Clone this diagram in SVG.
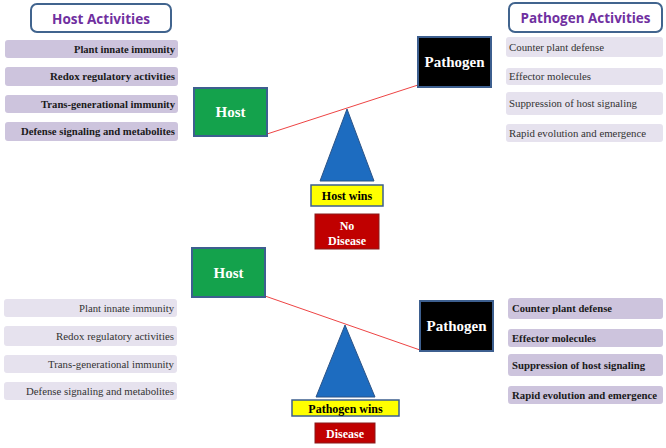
<svg xmlns="http://www.w3.org/2000/svg" width="666" height="448" viewBox="0 0 666 448">
<style>
.hdr{fill:#fff;stroke:#41648e;stroke-width:2}
.hdrt{font-family:"Open Sans","Liberation Sans",sans-serif;font-weight:bold;font-size:15px;fill:#7030a0;text-anchor:middle}
.dk{fill:#cdc4dd}
.lt{fill:#e6e2ee}
.bt{font-family:"Liberation Serif",serif;font-weight:bold;font-size:11px;fill:#1a1a1a}
.nt{font-family:"Liberation Serif",serif;font-size:11px;fill:#333}
.r{text-anchor:end}
.host{fill:#14a24c;stroke:#3d5f8f;stroke-width:2}
.path{fill:#000;stroke:#3d5f8f;stroke-width:2}
.nodet{font-family:"Liberation Serif",serif;font-weight:bold;font-size:15px;fill:#fff;text-anchor:middle}
.tri{fill:#1d6cc0;stroke:#2b5387;stroke-width:1}
.win{fill:#ffff00;stroke:#3d5f8f;stroke-width:1.5}
.wint{font-family:"Liberation Serif",serif;font-weight:bold;font-size:12px;fill:#000;text-anchor:middle}
.dis{fill:#c00000;stroke:#8a1a1a;stroke-width:1}
.dist{font-family:"Liberation Serif",serif;font-weight:bold;font-size:12px;fill:#fff;text-anchor:middle}
.beam{stroke:#ee4444;stroke-width:1;fill:none}
</style>

<!-- Headers -->
<g id="host-activities">
<rect class="hdr" x="31" y="4" width="140" height="28" rx="6"/>
<text class="hdrt" x="101" y="24" textLength="98" lengthAdjust="spacingAndGlyphs">Host Activities</text>
</g>
<g id="pathogen-activities">
<rect class="hdr" x="509" y="3" width="153" height="29" rx="6"/>
<text class="hdrt" x="585.5" y="23" textLength="130" lengthAdjust="spacingAndGlyphs">Pathogen Activities</text>
</g>

<!-- Top left host activity boxes (bold) -->
<g id="top-host-list">
<rect class="dk" x="5" y="40" width="173" height="18" rx="3"/>
<text class="bt r" x="175" y="52.5" textLength="101" lengthAdjust="spacingAndGlyphs">Plant innate immunity</text>
<rect class="dk" x="5" y="67" width="173" height="19" rx="3"/>
<text class="bt r" x="175" y="80" textLength="125" lengthAdjust="spacingAndGlyphs">Redox regulatory activities</text>
<rect class="dk" x="5" y="95" width="173" height="18" rx="3"/>
<text class="bt r" x="175" y="108" textLength="134" lengthAdjust="spacingAndGlyphs">Trans-generational immunity</text>
<rect class="dk" x="5" y="122" width="173" height="19" rx="3"/>
<text class="bt r" x="175" y="135" textLength="154" lengthAdjust="spacingAndGlyphs">Defense signaling and metabolites</text>
</g>

<!-- Top right pathogen activity boxes (normal) -->
<g id="top-pathogen-list">
<rect class="lt" x="506" y="37" width="157" height="20" rx="3"/>
<text class="nt" x="509" y="50.5" textLength="95" lengthAdjust="spacingAndGlyphs">Counter plant defense</text>
<rect class="lt" x="506" y="68" width="157" height="17" rx="3"/>
<text class="nt" x="509" y="80" textLength="82" lengthAdjust="spacingAndGlyphs">Effector molecules</text>
<rect class="lt" x="506" y="92" width="157" height="23" rx="3"/>
<text class="nt" x="509" y="107" textLength="128" lengthAdjust="spacingAndGlyphs">Suppression of host signaling</text>
<rect class="lt" x="506" y="124" width="157" height="18" rx="3"/>
<text class="nt" x="509" y="137" textLength="137" lengthAdjust="spacingAndGlyphs">Rapid evolution and emergence</text>
</g>

<!-- Connectors (balance beams) -->
<g id="connectors">
<line class="beam" x1="267" y1="134" x2="418" y2="85"/>
<line class="beam" x1="265" y1="296" x2="420" y2="350"/>
</g>

<!-- Top scale -->
<g id="top-host">
<rect class="host" x="194" y="88" width="73" height="48"/>
<text class="nodet" x="230.5" y="117">Host</text>
</g>
<g id="top-pathogen">
<rect class="path" x="418" y="37" width="73" height="50"/>
<text class="nodet" x="454.5" y="67">Pathogen</text>
</g>
<g id="top-fulcrum">
<polygon class="tri" points="347,109 374,181 320,181"/>
</g>
<g id="host-wins">
<rect class="win" x="311" y="185" width="72" height="21"/>
<text class="wint" x="347" y="200">Host wins</text>
</g>
<g id="no-disease">
<rect class="dis" x="315" y="214" width="64" height="35"/>
<text class="dist" x="347" y="230">No</text>
<text class="dist" x="347" y="245">Disease</text>
</g>

<!-- Bottom scale -->
<g id="bottom-host">
<rect class="host" x="192" y="248" width="73" height="49"/>
<text class="nodet" x="228.5" y="278">Host</text>
</g>
<g id="bottom-pathogen">
<rect class="path" x="420" y="301" width="73" height="50"/>
<text class="nodet" x="456.5" y="331">Pathogen</text>
</g>
<g id="bottom-fulcrum">
<polygon class="tri" points="345,325 375,397 316,397"/>
</g>
<g id="pathogen-wins">
<rect class="win" x="292" y="400" width="107" height="16"/>
<text class="wint" x="345.5" y="412.5">Pathogen wins</text>
</g>
<g id="disease">
<rect class="dis" x="315" y="423" width="60" height="20"/>
<text class="dist" x="345" y="437.5">Disease</text>
</g>

<!-- Bottom left host activity boxes (normal) -->
<g id="bottom-host-list">
<rect class="lt" x="4" y="299" width="173" height="18" rx="3"/>
<text class="nt r" x="174" y="312" textLength="95" lengthAdjust="spacingAndGlyphs">Plant innate immunity</text>
<rect class="lt" x="4" y="326" width="173" height="20" rx="3"/>
<text class="nt r" x="174" y="340" textLength="118" lengthAdjust="spacingAndGlyphs">Redox regulatory activities</text>
<rect class="lt" x="4" y="355" width="173" height="18" rx="3"/>
<text class="nt r" x="174" y="368" textLength="126" lengthAdjust="spacingAndGlyphs">Trans-generational immunity</text>
<rect class="lt" x="4" y="382" width="173" height="18" rx="3"/>
<text class="nt r" x="174" y="395" textLength="148" lengthAdjust="spacingAndGlyphs">Defense signaling and metabolites</text>
</g>

<!-- Bottom right pathogen activity boxes (bold) -->
<g id="bottom-pathogen-list">
<rect class="dk" x="508" y="298" width="155" height="21" rx="3"/>
<text class="bt" x="512" y="312" textLength="100" lengthAdjust="spacingAndGlyphs">Counter plant defense</text>
<rect class="dk" x="508" y="329" width="155" height="18" rx="3"/>
<text class="bt" x="512" y="342" textLength="84" lengthAdjust="spacingAndGlyphs">Effector molecules</text>
<rect class="dk" x="508" y="354" width="155" height="22" rx="3"/>
<text class="bt" x="512" y="369" textLength="133" lengthAdjust="spacingAndGlyphs">Suppression of host signaling</text>
<rect class="dk" x="508" y="386" width="155" height="18" rx="3"/>
<text class="bt" x="512" y="399" textLength="145" lengthAdjust="spacingAndGlyphs">Rapid evolution and emergence</text>
</g>
</svg>
